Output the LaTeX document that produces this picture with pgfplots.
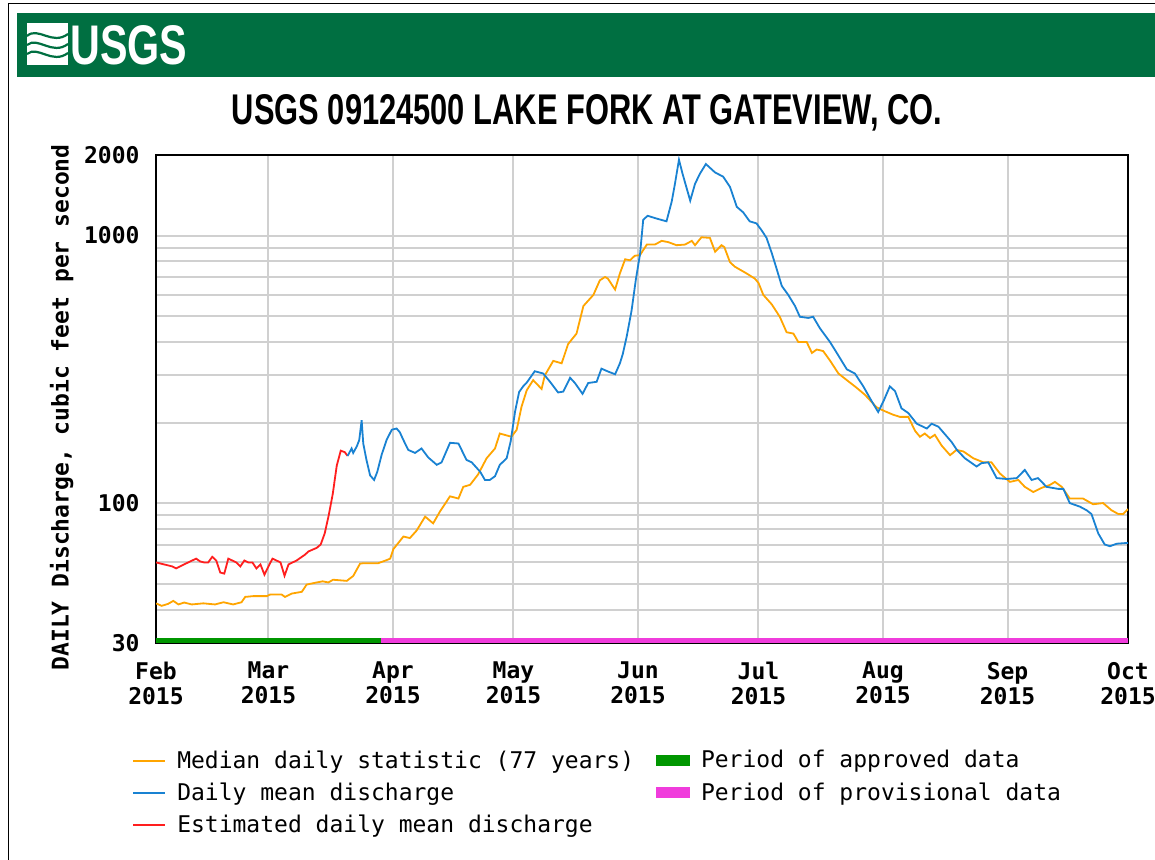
\documentclass[border=0pt]{standalone}
\usepackage{fontspec}
\usepackage{graphicx}
\setmonofont{DejaVu Sans Mono}
\newfontfamily\titlefont{Liberation Sans}
\usepackage{pgfplots}
\pgfplotsset{compat=1.18}
\definecolor{usgsgreen}{RGB}{0,111,65}
\definecolor{medorange}{RGB}{255,165,0}
\definecolor{meanblue}{RGB}{25,130,210}
\definecolor{estred}{RGB}{255,30,30}
\definecolor{apprgreen}{RGB}{0,150,0}
\definecolor{provmag}{RGB}{240,60,220}
\definecolor{gridgray}{RGB}{208,208,208}
\newcommand{\tickfont}{\ttfamily\bfseries\fontsize{11.5}{12.5}\selectfont}
\newcommand{\legfont}{\ttfamily\fontsize{11.5}{12.5}\selectfont}
\begin{document}
\begin{tikzpicture}
\useasboundingbox (0,0) rectangle (577.5pt,430pt);
\fill[white] (0,0) rectangle (577.5pt,430pt);
\draw[black, line width=0.7pt] (4.2pt,0pt) -- (4.2pt,428.3pt) -- (577.5pt,428.3pt);
% header
\fill[usgsgreen] (8.5pt,391.5pt) rectangle (577.5pt,423.5pt);
\begin{scope}
\clip (13.5pt,397.5pt) rectangle (34pt,418.5pt);
\fill[white] (13.5pt,397.5pt) rectangle (34pt,418.5pt);
\draw[usgsgreen, line width=1.1pt] (13.5pt,412pt) .. controls (19pt,417pt) and (26pt,407pt) .. (34pt,413pt);
\draw[usgsgreen, line width=1.1pt] (13.5pt,407.5pt) .. controls (19pt,412pt) and (26pt,402pt) .. (34pt,408pt);
\draw[usgsgreen, line width=1.1pt] (13.5pt,403pt) .. controls (19pt,407.5pt) and (26pt,397.5pt) .. (34pt,403.5pt);
\end{scope}
\node[anchor=south west, inner sep=0pt, text=white] at (35pt,397.5pt) {\resizebox{58.5pt}{19.5pt}{\titlefont\bfseries USGS}};
% title
\node[anchor=base, inner sep=0pt] at (293.5pt,367.5pt) {\resizebox{355pt}{15pt}{\titlefont\bfseries USGS 09124500 LAKE FORK AT GATEVIEW, CO.}};
% y label
\node[rotate=90, inner sep=0pt, font=\tickfont] at (30.8pt,226.3pt) {DAILY Discharge, cubic feet per second};
\begin{axis}[
  at={(78pt,108.5pt)}, anchor=south west, scale only axis,
  width=486pt, height=244pt,
  ymode=log, xmin=0, xmax=242, ymin=30, ymax=2000,
  xtick={0,28,59,89,120,150,181,212,242},
  xticklabels={Feb\\2015,Mar\\2015,Apr\\2015,May\\2015,Jun\\2015,Jul\\2015,Aug\\2015,Sep\\2015,Oct\\2015},
  ytick={30,100,1000,2000}, yticklabels={30,100,1000,2000},
  minor ytick={40,50,60,70,80,90,200,300,400,500,600,700,800,900},
  xmajorgrids, ymajorgrids, yminorgrids,
  grid style={gridgray, line width=1pt},
  major grid style={gridgray, line width=1pt},
  minor grid style={gridgray, line width=1pt},
  major tick length=0pt, minor tick length=0pt,
  axis line style={black, line width=1pt},
  tick label style={font=\tickfont},
  xticklabel style={align=center, yshift=-6pt},
  yticklabel style={xshift=-4.7pt},
  legend style={at={(-0.031,-0.203)}, anchor=north west, draw=none, fill=none,
    font=\legfont, row sep=1.75pt,
    /tikz/every odd column/.append style={column sep=3.5pt},
    /tikz/every even column/.append style={column sep=9pt}},
  legend columns=3, transpose legend, legend cell align=left,
]
% status bars
\addplot[apprgreen, line width=2.5pt, forget plot] coordinates {(0,30.65) (56,30.65)};
\addplot[provmag, line width=2.5pt, forget plot] coordinates {(56,30.65) (242,30.65)};
% median
\addplot[medorange, line width=0.9pt, forget plot] coordinates {
(0,42.2) (1.4,41.3) (3,42) (4.3,43.1) (5.6,41.8) (7,42.5) (8.9,41.8) (11.8,42.2) (14.7,41.8)
(16.8,42.6) (19.2,41.8) (21.3,42.6) (22.2,44.6) (24.2,44.9) (27.6,44.9) (28.4,45.5) (31.3,45.5)
(32.1,44.6) (33.8,45.9) (36.3,46.6) (37.5,49.6) (40,50.5) (41.5,51) (42.9,50.5) (44.1,51.7)
(47.5,51.2) (49.1,53.4) (50.8,59.4) (51.6,59.6) (55.3,59.6) (57.4,61.2) (58.3,62) (59.1,67.3)
(61.6,75) (63.2,74) (64.9,79) (67,89) (69,84) (70.7,93) (73.2,106) (75.3,104) (76.5,115)
(78.2,117) (80.2,128) (82.3,147) (84.4,160) (85.6,182) (87.3,179) (88.5,177) (89.8,188)
(91,229) (92.3,264) (93.9,288) (96,267) (96.8,300) (98.9,340) (101,333) (102.6,393) (104.7,430)
(106.4,545) (108.9,600) (110.5,680) (111.8,700) (112.5,690) (114.3,628) (115.5,722) (116.8,815)
(118,808) (119.2,840) (120.5,845) (122.2,925) (124.2,925) (125.9,955) (127.5,945) (129.6,920)
(131.7,925) (133.4,955) (134.2,920) (135.8,985) (137.9,980) (139.2,870) (140.8,920) (141.5,905)
(142.9,795) (144.1,765) (147,722) (149.1,690) (150,665) (151.2,600) (153.3,553) (155.3,497)
(157,435) (158.7,430) (159.9,400) (162,400) (163.3,364) (164.5,375) (166.1,370) (167.8,341)
(169.9,305) (172,288) (174.4,270) (176.5,254) (179.4,228) (181.3,221) (183.5,214) (185.2,210)
(187.3,210) (189,186) (190.2,177) (191.4,182) (192.7,175) (193.9,180) (195.6,164) (197.7,151)
(199.3,158) (201,156) (203.5,147) (206,142) (208,142) (210.1,129) (212.6,120) (214.7,122)
(216.3,115) (218.4,110) (220.5,114) (222.6,117) (223.8,120) (225.5,115) (227.5,104) (230.8,104)
(233.3,99) (235.8,100) (237.9,94) (239.6,91) (240.8,91) (242,95)
};
% estimated
\addplot[estred, line width=0.9pt, forget plot] coordinates {
(0,60) (1,59.5) (2,59) (3,58.5) (4,58) (5,57) (6,58) (7,59) (8,60) (9,61) (10,62) (11,60.5)
(12,60) (13,60) (14,63) (15,61) (16,55) (17,54.5) (18,62) (19,61) (20,60) (21,58) (22,61)
(23,60) (24,60) (25,57) (26,59) (27,54) (28,58) (29,62) (30,61) (31,60) (32,53.5) (33,59)
(34,60) (35,61) (36,62.5) (37,64) (38,66) (39,67) (40,68) (41,70) (42,77) (43,90) (44,108)
(45,138) (46,157) (47,155) (47.7,150)
};
% daily mean
\addplot[meanblue, line width=0.9pt, forget plot] coordinates {
(47.7,150) (48.7,160) (49.1,154) (50,163) (50.6,172) (51.2,204) (51.6,167) (52.4,145) (53.3,127)
(54.3,122) (55.1,131) (56.2,152) (57.4,172) (58.7,188) (59.9,190) (60.7,184) (61.6,172)
(62.8,158) (64.5,154) (66.1,160) (67.8,148) (69.9,139) (71.1,142) (73.2,168) (75.3,167)
(77.3,145) (78.6,142) (80.7,131) (81.9,122) (83.1,122) (84.4,126) (85.6,139) (87.3,147)
(88.3,170) (89.4,220) (90.4,260) (91.4,273) (92.3,282) (94.3,311) (96.4,305) (98.1,284)
(100.1,259) (101.4,261) (103.1,294) (104.3,281) (106.2,256) (107.6,281) (109.7,284) (110.9,318)
(112.6,310) (114.3,303) (115.5,333) (116.2,360) (117.2,420) (118.4,524) (119.5,690) (120.5,850)
(121.3,1145) (122.4,1185) (124.8,1155) (127.1,1130) (128.4,1340) (129.2,1560) (130.2,1920)
(131.1,1700) (133,1350) (134.2,1560) (135.4,1700) (136.9,1850) (139.2,1720) (141.2,1660)
(142.9,1520) (144.6,1280) (146.2,1220) (147.8,1130) (149.5,1110) (150.7,1050) (152,980)
(153.3,860) (154.5,752) (155.8,648) (157.4,600) (159.1,545) (160.3,497) (162.4,492) (163.6,497)
(165.3,450) (167.8,400) (169.5,364) (172,316) (174,305) (176.1,273) (178.2,240) (179.8,219)
(181.1,240) (182.7,273) (184,262) (185.6,226) (187.3,217) (189.4,198) (191.9,190) (193.1,198)
(194.8,193) (198.1,169) (199.4,158) (201.4,147) (204.3,137) (205.5,141) (207.2,142) (209.3,124)
(211.8,123) (214.3,124) (216.3,133) (218,122) (219.6,124) (221.7,115) (224.6,113) (225.9,113)
(227.5,100) (230,97) (231.7,94) (232.9,91) (234.6,77) (236.2,70) (237.5,69) (239.2,70.5) (242,71)
};
% legend
\addlegendimage{legend image code/.code={\draw[medorange, line width=1pt] (0pt,0pt) -- (16pt,0pt);}}
\addlegendentry{Median daily statistic (77 years)}
\addlegendimage{legend image code/.code={\draw[meanblue, line width=1pt] (0pt,0pt) -- (16pt,0pt);}}
\addlegendentry{Daily mean discharge}
\addlegendimage{legend image code/.code={\draw[estred, line width=1pt] (0pt,0pt) -- (16pt,0pt);}}
\addlegendentry{Estimated daily mean discharge}
\addlegendimage{legend image code/.code={\fill[apprgreen] (0pt,-2.5pt) rectangle (16.5pt,2.5pt);}}
\addlegendentry{Period of approved data}
\addlegendimage{legend image code/.code={\fill[provmag] (0pt,-2.5pt) rectangle (16.5pt,2.5pt);}}
\addlegendentry{Period of provisional data}
\addlegendimage{empty legend}
\addlegendentry{}
\end{axis}
\end{tikzpicture}
\end{document}
